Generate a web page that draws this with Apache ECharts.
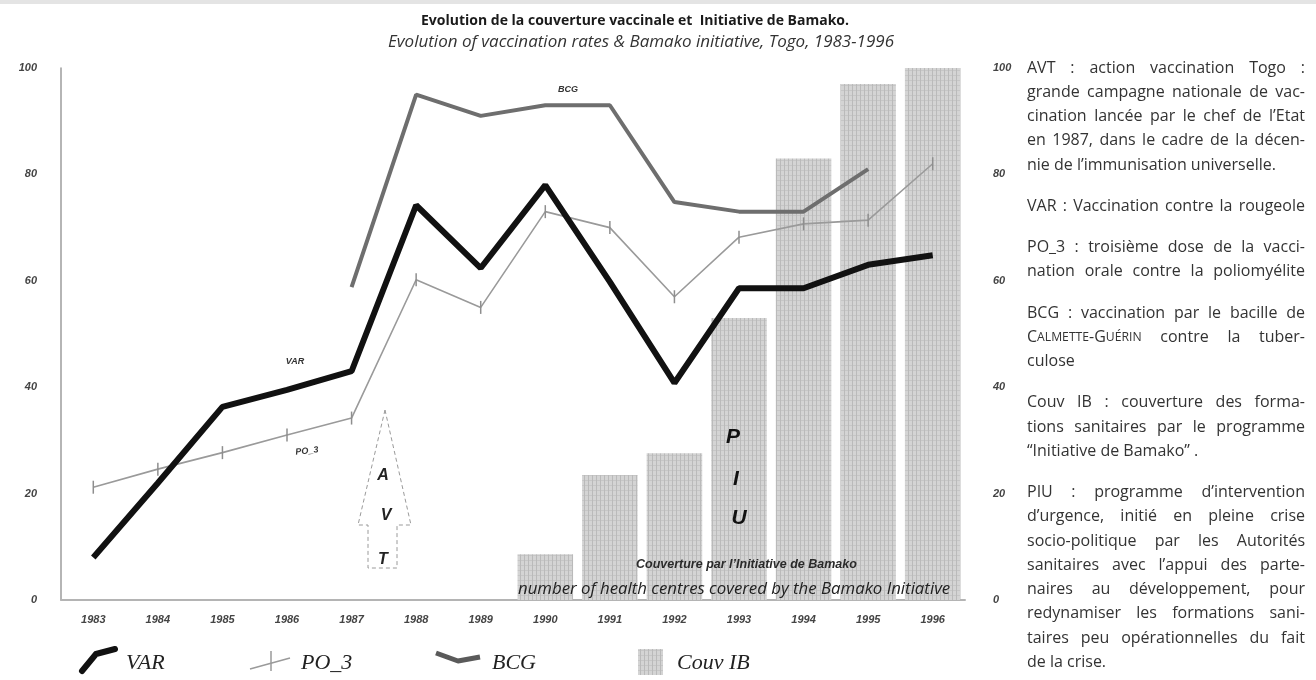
<!DOCTYPE html>
<html>
<head>
<meta charset="utf-8">
<script src="https://cdn.jsdelivr.net/npm/echarts@6/dist/echarts.min.js"></script>
<style>
html,body{margin:0;padding:0;background:#ffffff;}
#chart{width:1316px;height:680px;}
</style>
</head>
<body>
<div id="chart"></div>
<script>
// ---------------- data ----------------
const years = ['1983','1984','1985','1986','1987','1988','1989','1990','1991','1992','1993','1994','1995','1996'];
const varValues  = [8, 22, 36.3, 39.5, 43, 74.2, 62.4, 78, 59.8, 40.8, 58.6, 58.6, 63, 64.8];
const po3Values  = [21.2, 24.6, 27.7, 31, 34.2, 60.2, 55, 73, 70, 57, 68.2, 70.7, 71.4, 82];
const bcgValues  = [null, null, null, null, 58.8, 95, 91, 93, 93, 74.8, 73, 73, 81, null];
const couvIBValues = [null, null, null, null, null, null, null, 8.6, 23.5, 27.6, 53, 83, 97, 100];
const yTickValues = [0, 20, 40, 60, 80, 100];

const titleText = 'Evolution de la couverture vaccinale et  Initiative de Bamako.';
const subtitleText = 'Evolution of vaccination rates & Bamako initiative, Togo, 1983-1996';

const notes = [
  ['AVT : action vaccination Togo :', 'grande campagne nationale de vac-', 'cination lancée par le chef de l’Etat', 'en 1987, dans le cadre de la décen-', 'nie de l’immunisation universelle.'],
  ['VAR : Vaccination contre la rougeole'],
  ['PO_3 : troisième dose de la vacci-', 'nation orale contre la poliomyélite'],
  ['BCG : vaccination par le bacille de', '^Calmette-Guérin contre la tuber-', 'culose'],
  ['Couv IB : couverture des forma-', 'tions sanitaires par le programme', '“Initiative de Bamako” .'],
  ['PIU : programme d’intervention', 'd’urgence, initié en pleine crise', 'socio-politique par les Autorités', 'sanitaires avec l’appui des parte-', 'naires au développement, pour', 'redynamiser les formations sani-', 'taires peu opérationnelles du fait', 'de la crise.']
];
const notesJustifyLast = [false, true, true, false, false, false];

// ---------------- helpers ----------------
function makePattern() {
  const c = document.createElement('canvas');
  c.width = 4; c.height = 5;
  const g = c.getContext('2d');
  g.fillStyle = '#d4d4d4'; g.fillRect(0, 0, 4, 5);
  g.fillStyle = '#bababa'; g.fillRect(0, 0, 1, 5);
  g.fillStyle = '#c6c6c6'; g.fillRect(1, 0, 3, 1);
  return c;
}
const pattern = makePattern();

const COL_X = 1027, COL_W = 278, COL_Y0 = 68, LINE_H = 24.25, PARA_GAP = 17;
const FS = 16;
const fontMain = FS + 'px "Open Sans"';
const fontSC = (FS * 0.76).toFixed(1) + 'px "Open Sans"';
const textFill = '#333333';
const mctx = document.createElement('canvas').getContext('2d');
function measure(s, font) { mctx.font = font; return mctx.measureText(s).width; }

function parseSC(s) {
  const segs = [];
  for (const ch of s) {
    const small = ch !== ch.toUpperCase();
    const t = small ? ch.toUpperCase() : ch;
    const last = segs[segs.length - 1];
    if (last && last.small === small) last.t += t; else segs.push({ t, small });
  }
  return segs;
}
function wordSpec(w) {
  if (w[0] === '^') {
    const segs = parseSC(w.slice(1));
    let width = 0;
    segs.forEach(s => { width += measure(s.t, s.small ? fontSC : fontMain); });
    return { width, text: segs.map(s => '{' + (s.small ? 'b' : 'a') + '|' + s.t + '}').join(''), rich: true };
  }
  return { width: measure(w, fontMain), text: w, rich: false };
}
function textEl(x, y, spec) {
  const style = { text: spec.text, font: fontMain, fill: textFill, textAlign: 'left', textVerticalAlign: 'middle' };
  if (spec.rich) {
    style.rich = { a: { font: fontMain, fill: textFill }, b: { font: fontSC, fill: textFill } };
  }
  return { type: 'text', x, y, z: 50, silent: true, style };
}

function buildNotes() {
  const els = [];
  let y = COL_Y0;
  notes.forEach((para, pi) => {
    para.forEach((line, li) => {
      const words = line.split(' ');
      const specs = words.map(wordSpec);
      const sum = specs.reduce((a, s) => a + s.width, 0);
      const spaceW = measure(' ', fontMain);
      const isLast = li === para.length - 1;
      const justify = words.length > 1 && (!isLast || notesJustifyLast[pi]);
      const gap = justify ? (COL_W - sum) / (words.length - 1) : spaceW;
      let x = COL_X;
      specs.forEach(s => { els.push(textEl(x, y, s)); x += s.width + gap; });
      y += LINE_H;
    });
    y += PARA_GAP;
  });
  return els;
}

const axisLabelStyle = { color: '#444', fontSize: 11, fontStyle: 'italic', fontWeight: 'bold', fontFamily: 'Liberation Sans' };
const legendFont = 'italic 22px "Liberation Serif"';
const annoFont = 'italic bold 9px "Liberation Sans"';
function label(x, y, text, font, fill, align, extra) {
  return Object.assign({ type: 'text', x, y, z: 50, silent: true,
    style: { text, font, fill, textAlign: align || 'center', textVerticalAlign: 'middle' } }, extra || {});
}

const graphics = [
  { type: 'rect', shape: { x: 0, y: 0, width: 1316, height: 4 }, style: { fill: '#e4e4e4' }, silent: true },
  // annotations
  label(295, 362, 'VAR', annoFont, '#333'),
  label(307, 451, 'PO_3', annoFont, '#333', 'center', { rotation: 0.12 }),
  label(568, 90, 'BCG', annoFont, '#333'),
  // AVT arrow
  { type: 'polygon', z: 50, silent: true, shape: { points: [[385, 410], [411, 525], [397, 525], [397, 568], [368, 568], [368, 525], [358, 525]] },
    style: { fill: 'rgba(0,0,0,0)', stroke: '#9a9a9a', lineWidth: 1, lineDash: [4, 3] } },
  label(383, 476, 'A', 'italic bold 16px "Liberation Sans"', '#222'),
  label(386, 516, 'V', 'italic bold 16px "Liberation Sans"', '#222'),
  label(383, 560, 'T', 'italic bold 16px "Liberation Sans"', '#222'),
  // PIU
  label(733, 437, 'P', 'italic bold 21px "Liberation Sans"', '#111'),
  label(736, 479, 'I', 'italic bold 21px "Liberation Sans"', '#111'),
  label(739, 518, 'U', 'italic bold 21px "Liberation Sans"', '#111'),
  label(636, 565, 'Couverture par l’Initiative de Bamako', 'italic bold 12.5px "Liberation Sans"', '#2a2a2a', 'left'),
  label(518, 589, 'number of health centres covered by the Bamako Initiative', 'italic 16.8px "Open Sans"', '#222', 'left'),
  // legend
  { type: 'polyline', z: 50, shape: { points: [[82, 671], [96, 654], [115, 649]] }, style: { stroke: '#111', lineWidth: 6, fill: null, lineCap: 'round', lineJoin: 'round' } },
  label(126, 663, 'VAR', legendFont, '#222', 'left'),
  { type: 'polyline', z: 50, shape: { points: [[250, 669], [290, 658]] }, style: { stroke: '#9a9a9a', lineWidth: 1.5, fill: null } },
  { type: 'polyline', z: 50, shape: { points: [[271, 651], [271, 671]] }, style: { stroke: '#9a9a9a', lineWidth: 1.5, fill: null } },
  label(301, 663, 'PO_3', legendFont, '#222', 'left'),
  { type: 'polyline', z: 50, shape: { points: [[436, 653], [458, 661], [480, 657]] }, style: { stroke: '#5a5a5a', lineWidth: 5, fill: null, lineJoin: 'round' } },
  label(492, 663, 'BCG', legendFont, '#222', 'left'),
  { type: 'rect', z: 50, shape: { x: 638, y: 649, width: 25, height: 26 }, style: { fill: { image: pattern, repeat: 'repeat' } } },
  label(677, 663, 'Couv IB', legendFont, '#222', 'left')
].concat(buildNotes());

const chart = echarts.init(document.getElementById('chart'), null, { renderer: 'canvas' });
const option = {
  animation: false,
  backgroundColor: '#ffffff',
  title: [
    { text: titleText, left: 630, top: 9, textAlign: 'center',
      textStyle: { fontFamily: 'Open Sans', fontSize: 14, fontWeight: 'bold', color: '#1a1a1a' } },
    { text: subtitleText, left: 636, top: 29, textAlign: 'center',
      textStyle: { fontFamily: 'Open Sans', fontSize: 17, fontStyle: 'italic', fontWeight: 'normal', color: '#333' } }
  ],
  grid: { left: 61, right: 351, top: 68, bottom: 80 },
  xAxis: {
    type: 'category', data: years, boundaryGap: true,
    axisLine: { show: true, lineStyle: { color: '#b4b4b4', width: 2 } },
    axisTick: { show: false }, splitLine: { show: false },
    axisLabel: Object.assign({ margin: 14 }, axisLabelStyle)
  },
  yAxis: [
    { type: 'value', min: yTickValues[0], max: yTickValues[yTickValues.length - 1], interval: 20,
      axisLine: { show: true, lineStyle: { color: '#9c9c9c', width: 1.5 } },
      axisTick: { show: false }, splitLine: { show: false },
      axisLabel: Object.assign({ margin: 24 }, axisLabelStyle) },
    { type: 'value', position: 'right', min: yTickValues[0], max: yTickValues[yTickValues.length - 1], interval: 20,
      axisLine: { show: false }, axisTick: { show: false }, splitLine: { show: false },
      axisLabel: Object.assign({ margin: 28 }, axisLabelStyle) }
  ],
  series: [
    { name: 'Couv IB', type: 'bar', yAxisIndex: 1, data: couvIBValues, barWidth: '86%', z: 1,
      itemStyle: { color: { image: pattern, repeat: 'repeat' } } },
    { name: 'BCG', type: 'line', data: bcgValues, symbol: 'none', z: 3,
      lineStyle: { color: '#6e6e6e', width: 4 } },
    { name: 'PO_3', type: 'line', data: po3Values, symbol: 'path://M0,0H1V10H0Z', symbolSize: [1.5, 13], z: 4,
      itemStyle: { color: '#8e8e8e' }, lineStyle: { color: '#9a9a9a', width: 1.6 } },
    { name: 'VAR', type: 'line', data: varValues, symbol: 'none', z: 5,
      lineStyle: { color: '#111111', width: 6 } }
  ],
  graphic: graphics
};
chart.setOption(option);
</script>
</body>
</html>
